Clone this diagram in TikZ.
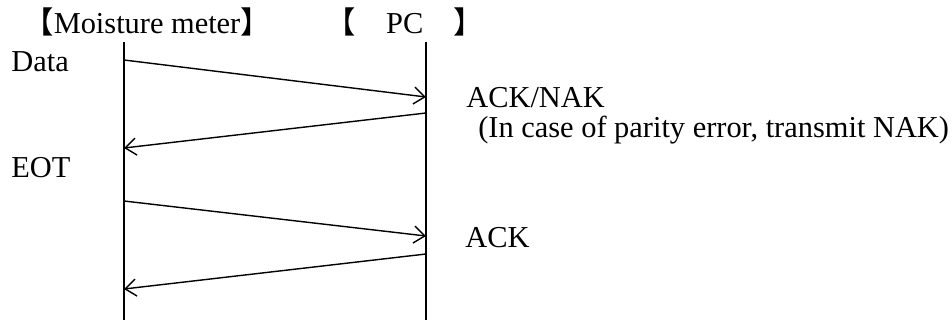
\documentclass[tikz,border=0pt]{standalone}
\usepackage{fontspec}
\setmainfont{Liberation Serif}
\newfontfamily\cjk{Noto Sans CJK JP}
\usepackage{tikz}
\usetikzlibrary{arrows.meta}
\usepackage{xcolor}

\begin{document}
\begin{tikzpicture}
        % ================= 样式定义 =================
        \tikzset{
            % 生命线:竖直黑线
            lifeline/.style={line width=1.1pt, black},
            % 报文箭头:开口箭头
            msg/.style={line width=0.8pt, black, -{Straight Barb[length=2.2mm, width=3.4mm, line width=0.8pt]}},
            % 文字标签
            lbl/.style={anchor=base west, inner sep=0pt, font=\fontsize{17.3}{20}\selectfont}
        }
        \useasboundingbox (0,0) rectangle (19.04,6.4);

        % ================= 标题 =================
        \node[lbl] (meter) at (0.46,5.74) {{\cjk 【}Moisture meter{\cjk 】}};
        \node[lbl] (pc) at (6.50,5.74) {{\cjk 【　}PC{\cjk 　】}};

        % ================= 生命线 =================
        \coordinate (mtop) at (2.48,5.56);
        \coordinate (mbot) at (2.48,0);
        \coordinate (ptop) at (8.52,5.56);
        \coordinate (pbot) at (8.52,0);
        \draw[lifeline] (mtop) -- (mbot);
        \draw[lifeline] (ptop) -- (pbot);

        % 1. 箭头端点
        \coordinate (m1) at (2.48,5.20);
        \coordinate (p1) at (8.52,4.46);
        \coordinate (p2) at (8.52,4.14);
        \coordinate (m2) at (2.48,3.44);
        \coordinate (m3) at (2.48,2.38);
        \coordinate (p3) at (8.52,1.68);
        \coordinate (p4) at (8.52,1.32);
        \coordinate (m4) at (2.48,0.62);

        % 2. 报文
        \draw[msg] (m1) -- (p1);
        \draw[msg] (p2) -- (m2);
        \draw[msg] (m3) -- (p3);
        \draw[msg] (p4) -- (m4);

        % 3. 报文名称
        \node[lbl] (data) at (0.22,4.98) {Data};
        \node[lbl] (eot) at (0.22,2.86) {EOT};
        \node[lbl] (acknak) at (9.32,4.26) {ACK/NAK};
        \node[lbl] (note) at (9.56,3.66) {(In case of parity error, transmit NAK)};
        \node[lbl] (ack) at (9.30,1.46) {ACK};

    \end{tikzpicture}
\end{document}
